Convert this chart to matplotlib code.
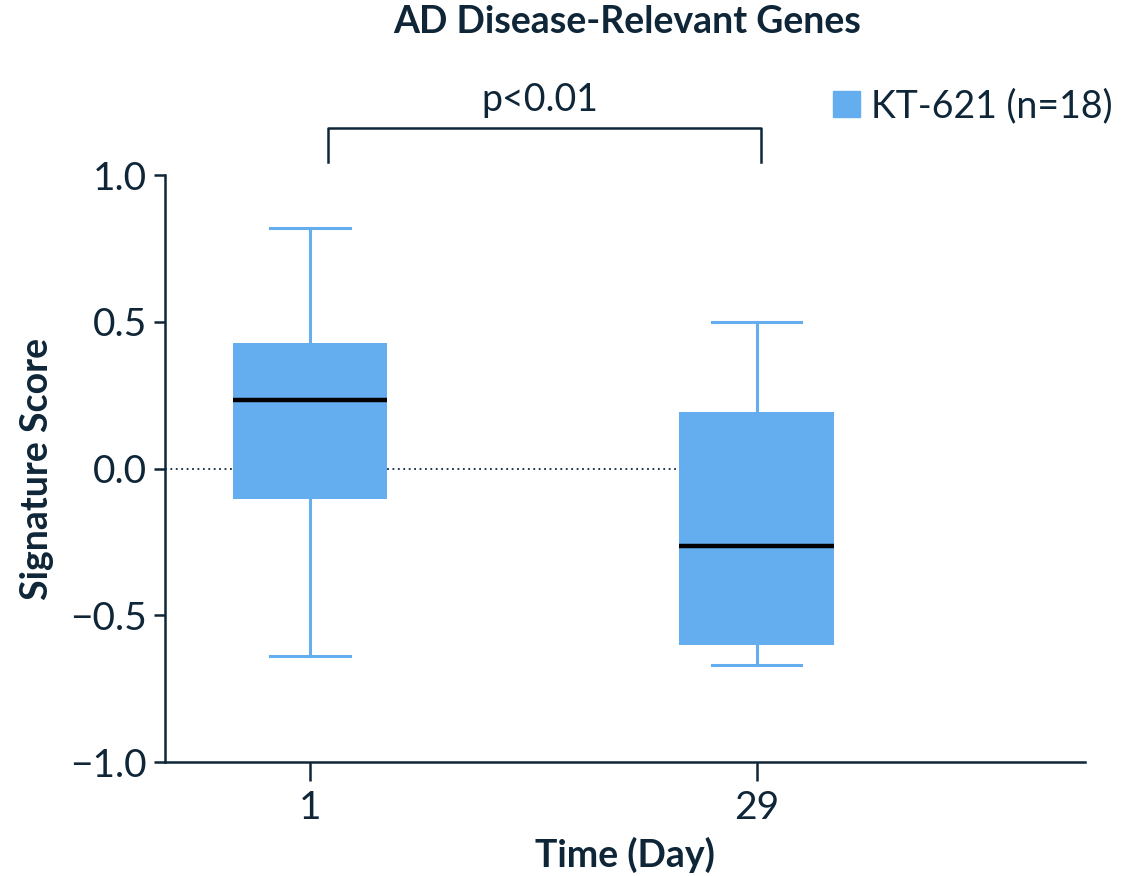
import matplotlib
matplotlib.use("Agg")
import matplotlib.pyplot as plt
from matplotlib.patches import Patch

plt.rcParams['font.family'] = ['Lato', 'DejaVu Sans']

# values
days = ["1", "29"]
q1 = [-0.104, -0.601]
q3 = [0.428, 0.193]
medians = [0.233, -0.264]
whislo = [-0.639, -0.670]
whishi = [0.820, 0.499]

title = "AD Disease-Relevant Genes"
series_label = "KT-621 (n=18)"
p_text = "p<0.01"

BOX = "#64aef0"
INK = "#0e2638"


def main():
    f = plt.figure(figsize=(11.38, 8.76), dpi=100)
    ax = f.add_axes([0.145, 0.130, 0.808, 0.670])

    stats = []
    for i in range(len(days)):
        stats.append(dict(label=days[i], q1=q1[i], q3=q3[i], med=medians[i],
                          whislo=whislo[i], whishi=whishi[i], fliers=[]))
    positions = list(range(len(days)))
    ax.bxp(stats, positions=positions, widths=0.345, patch_artist=True,
           showfliers=False,
           boxprops=dict(facecolor=BOX, edgecolor=BOX, linewidth=0),
           whiskerprops=dict(color=BOX, linewidth=2.2),
           capprops=dict(color=BOX, linewidth=2.2),
           medianprops=dict(color="black", linewidth=3.2),
           capwidths=[0.18, 0.2], zorder=3)

    # dotted zero line
    ax.plot([-0.324, 0.82], [0, 0], linestyle=(0, (1, 2)), color=INK,
            linewidth=1.3, zorder=1)

    ax.set_xlim(-0.324, 1.734)
    ax.set_ylim(-1.0, 1.0)
    ax.set_yticks([-1.0, -0.5, 0.0, 0.5, 1.0])
    ax.set_yticklabels(["\u22121.0", "\u22120.5", "0.0", "0.5", "1.0"])
    ax.set_xticks(positions)
    ax.set_xticklabels(days)

    for s in ["top", "right"]:
        ax.spines[s].set_visible(False)
    for s in ["left", "bottom"]:
        ax.spines[s].set_color(INK)
        ax.spines[s].set_linewidth(1.8)
    ax.tick_params(axis="y", colors=INK, labelsize=28, length=8, width=1.8, pad=5)
    ax.tick_params(axis="x", colors=INK, labelsize=28, length=14, width=1.8, pad=6)

    ax.set_xlabel("Time (Day)", fontsize=27, fontweight="bold", color=INK, labelpad=8)
    ax.set_ylabel("Signature Score", fontsize=27, fontweight="bold", color=INK, labelpad=12)

    # significance bracket
    ax.plot([0.04, 0.04, 1.011, 1.011], [1.044, 1.160, 1.160, 1.044],
            color=INK, linewidth=1.8, clip_on=False)
    ax.text(0.515, 1.195, p_text, ha="center", va="bottom", fontsize=27,
            color=INK)

    f.text(0.551, 0.975, title, ha="center", va="center", fontsize=27,
           fontweight="bold", color=INK)

    handles = [Patch(facecolor=BOX, edgecolor=BOX, label=series_label)]
    f.legend(handles=handles, loc="center right", bbox_to_anchor=(0.978, 0.879),
             frameon=False, fontsize=27, handlelength=0.72, handleheight=0.72,
             handletextpad=0.3, borderpad=0, borderaxespad=0, labelcolor=INK)

    f.savefig("out.png", dpi=100)


if __name__ == "__main__":
    main()
